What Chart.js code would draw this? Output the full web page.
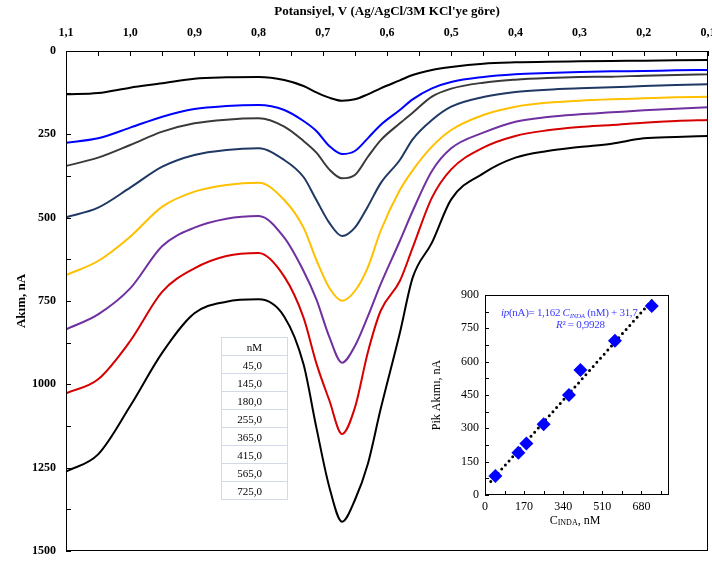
<!DOCTYPE html>
<html>
<head>
<meta charset="utf-8">
<script src="https://cdn.jsdelivr.net/npm/chart.js@4.4.1/dist/chart.umd.min.js"></script>
<style>
  html, body { margin: 0; padding: 0; background: #fff; }
  #wrap { position: relative; width: 712px; height: 563px; overflow: hidden; }
  #mainChart { position: absolute; left: 0; top: 0; }
  #insetChart { position: absolute; left: 425px; top: 285px; }
  #concTable { position: absolute; left: 221px; top: 337px; width: 67px; border-collapse: collapse;
    font: 11px 'Liberation Serif', serif; color: #000; }
  #concTable td, #concTable th { border: 1px solid #d3d9e6; height: 17px; padding: 0; font-weight: normal; }
  #concTable th { text-align: center; }
  #concTable td { text-align: right; padding-right: 25px; }
  .eq { position: absolute; font: 11px 'Liberation Serif', serif; letter-spacing: -0.3px; color: #3a3aff; white-space: nowrap; line-height: 12px; }
  .eq sub { font-size: 7px; vertical-align: -2px; }
  #xTitleInset { position: absolute; left: 540px; top: 513px; width: 70px; text-align: center;
    font: 12px 'Liberation Serif', serif; color: #000; }
  #xTitleInset sub { font-size: 8px; vertical-align: -1px; }
</style>
</head>
<body>
<div id="wrap">
  <canvas id="mainChart" width="712" height="563"></canvas>
  <canvas id="insetChart" width="283" height="255"></canvas>
  <table id="concTable"></table>
  <div class="eq" style="left:501px; top:306px;"><i>ip</i>(nA)= 1,162 <i>C<sub>INDA</sub></i> (nM) + 31,7</div>
  <div class="eq" style="left:556px; top:318px;"><i>R</i>² = 0,9928</div>
  <div id="xTitleInset">C<sub>INDA</sub>, nM</div>
</div>
<script>
// potential axis (V) and currents (nA)
const potentials = [1.10, 1.05, 1.00, 0.95, 0.90, 0.85, 0.80, 0.76, 0.73, 0.71, 0.69, 0.67, 0.65, 0.63, 0.61, 0.58, 0.56, 0.53, 0.50, 0.45, 0.40, 0.35, 0.30, 0.25, 0.20, 0.15, 0.10];
const concentrations = [45, 145, 180, 255, 365, 415, 565, 725];

const current45  = [130, 126, 110, 97, 83, 79, 78, 87, 105, 124, 140, 149, 145, 130, 112, 88, 72, 57, 48, 38, 34, 32, 31, 30, 29, 28, 27];
const current145 = [275, 262, 230, 197, 174, 165, 162, 177, 210, 240, 285, 309, 300, 262, 222, 177, 145, 112, 93, 78, 70, 66, 63, 61, 60, 58, 57];
const current180 = [345, 320, 282, 242, 217, 206, 202, 227, 270, 305, 355, 382, 372, 318, 268, 217, 185, 137, 113, 95, 86, 81, 78, 77, 74, 72, 70];
const current255 = [499, 470, 410, 347, 312, 297, 292, 327, 378, 447, 515, 555, 530, 467, 397, 327, 265, 207, 167, 138, 123, 116, 112, 109, 105, 102, 100];
const current365 = [672, 630, 557, 467, 422, 402, 395, 447, 530, 627, 710, 749, 720, 650, 540, 417, 358, 287, 237, 192, 167, 155, 149, 145, 142, 139, 137];
const current415 = [835, 790, 712, 585, 530, 503, 495, 560, 660, 745, 857, 935, 885, 797, 700, 570, 480, 360, 292, 245, 212, 198, 190, 184, 178, 173, 169];
const current565 = [1027, 985, 870, 722, 652, 615, 606, 677, 800, 937, 1047, 1149, 1070, 905, 780, 690, 590, 440, 355, 290, 255, 238, 228, 222, 215, 210, 207];
const current725 = [1262, 1210, 1065, 905, 787, 752, 745, 797, 940, 1130, 1307, 1412, 1347, 1240, 1075, 846, 680, 575, 445, 367, 320, 300, 288, 278, 262, 258, 255];

// calibration (inset)
const peakCurrents = [85, 190, 232, 318, 450, 563, 694, 850];
const trendConc = [25, 730];
const trendCurrent = [61, 880];

const allCurrents = [current45, current145, current180, current255, current365, current415, current565, current725];
const curveColors = ['#000000', '#0000ff', '#3a3a3a', '#1f3864', '#ffc000', '#7030a0', '#d60000', '#000000'];

const serif = "'Liberation Serif', 'Times New Roman', serif";

// box around the plot plus tick marks pointing inwards
const boxTicks = {
  id: 'boxTicks',
  afterDraw(chart, args, opts) {
    const { ctx, chartArea: a, scales } = chart;
    ctx.save();
    ctx.strokeStyle = '#000';
    ctx.lineWidth = 1;
    ctx.strokeRect(Math.round(a.left) + 0.5, Math.round(a.top) + 0.5,
      Math.round(a.right - a.left) - 1, Math.round(a.bottom - a.top) - 1);
    ctx.beginPath();
    opts.xTicks.forEach(v => {
      const px = Math.round(scales.x.getPixelForValue(v)) + 0.5;
      if (opts.xSide === 'top') { ctx.moveTo(px, a.top); ctx.lineTo(px, a.top + opts.len); }
      else { ctx.moveTo(px, a.bottom); ctx.lineTo(px, a.bottom - opts.len); }
    });
    opts.yTicks.forEach(v => {
      const py = Math.round(scales.y.getPixelForValue(v)) + 0.5;
      ctx.moveTo(a.left, py); ctx.lineTo(a.left + opts.len, py);
    });
    ctx.stroke();
    ctx.restore();
  }
};

// keep the chart area where the reference has it (no room reserved for edge labels)
function noEdgePad(s) {
  s.paddingLeft = 0; s.paddingRight = 0; s.paddingTop = 0; s.paddingBottom = 0;
}

const mainXTicks = [];
for (let i = 0; i <= 20; i++) mainXTicks.push(0.1 + i * 0.05);
const mainYTicks = [];
for (let i = 0; i <= 12; i++) mainYTicks.push(i * 125);

new Chart(document.getElementById('mainChart'), {
  type: 'line',
  data: {
    datasets: allCurrents.map((arr, i) => ({
      label: concentrations[i] + ' nM',
      data: potentials.map((v, j) => ({ x: v, y: arr[j] })),
      borderColor: curveColors[i],
      borderWidth: 2,
      pointRadius: 0,
      cubicInterpolationMode: 'monotone',
      fill: false
    }))
  },
  options: {
    responsive: false,
    animation: false,
    layout: { padding: { left: 0, top: 0, right: 4, bottom: 12 } },
    plugins: {
      legend: { display: false },
      tooltip: { enabled: false },
      boxTicks: { xTicks: mainXTicks, xSide: 'top', yTicks: mainYTicks, len: 5 }
    },
    scales: {
      x: {
        type: 'linear', position: 'top', reverse: true, min: 0.1, max: 1.1,
        grid: { display: false, drawTicks: false }, border: { display: false },
        afterBuildTicks: s => { s.ticks = [1.1, 1.0, 0.9, 0.8, 0.7, 0.6, 0.5, 0.4, 0.3, 0.2, 0.1].map(v => ({ value: v })); },
        ticks: { padding: 11, color: '#000', maxRotation: 0, autoSkip: false,
          font: { family: serif, size: 12, weight: 'bold' },
          callback: v => v.toFixed(1).replace('.', ',') },
        title: { display: true, text: "Potansiyel, V (Ag/AgCl/3M KCl'ye göre)", color: '#000',
          font: { family: serif, size: 13, weight: 'bold' }, padding: { top: 4, bottom: 0 } },
        afterFit: s => { s.height = 51; noEdgePad(s); }
      },
      y: {
        min: 0, max: 1500, reverse: true,
        grid: { display: false, drawTicks: false }, border: { display: false },
        ticks: { stepSize: 250, padding: 10, color: '#000',
          font: { family: serif, size: 12, weight: 'bold' },
          callback: v => String(v) },
        title: { display: true, text: 'Akım, nA', color: '#000',
          font: { family: serif, size: 13, weight: 'bold' }, padding: { top: 14, bottom: 0 } },
        afterFit: s => { s.width = 66; noEdgePad(s); }
      }
    }
  },
  plugins: [boxTicks]
});

const insetXTicks = [];
for (let i = 0; i <= 9; i++) insetXTicks.push(i * 85);
const insetYTicks = [];
for (let i = 0; i <= 12; i++) insetYTicks.push(i * 75);

new Chart(document.getElementById('insetChart'), {
  type: 'scatter',
  data: {
    datasets: [
      {
        data: concentrations.map((c, i) => ({ x: c, y: peakCurrents[i] })),
        backgroundColor: '#0000ff', borderColor: '#0000ff',
        pointStyle: 'rectRot', pointRadius: 7, borderWidth: 0
      },
      {
        type: 'line',
        data: trendConc.map((c, i) => ({ x: c, y: trendCurrent[i] })),
        borderColor: '#000', borderWidth: 3, borderDash: [0, 5.5], borderCapStyle: 'round',
        pointRadius: 0, fill: false
      }
    ]
  },
  options: {
    responsive: false,
    animation: false,
    layout: { padding: { left: 0, top: 10, right: 39, bottom: 0 } },
    plugins: {
      legend: { display: false },
      tooltip: { enabled: false },
      boxTicks: { xTicks: insetXTicks, xSide: 'bottom', yTicks: insetYTicks, len: 4 }
    },
    scales: {
      x: {
        type: 'linear', min: 0, max: 800,
        grid: { display: false, drawTicks: false }, border: { display: false },
        afterBuildTicks: s => { s.ticks = [0, 170, 340, 510, 680].map(v => ({ value: v })); },
        ticks: { padding: 5, color: '#000', maxRotation: 0, font: { family: serif, size: 12 } },
        afterFit: s => { s.height = 45; noEdgePad(s); }
      },
      y: {
        min: 0, max: 900,
        grid: { display: false, drawTicks: false }, border: { display: false },
        ticks: { stepSize: 150, padding: 6, color: '#000', font: { family: serif, size: 12 } },
        title: { display: true, text: 'Pik Akımı, nA', color: '#000',
          font: { family: serif, size: 12 }, padding: { top: 5, bottom: 0 } },
        afterFit: s => { s.width = 60; noEdgePad(s); }
      }
    }
  },
  plugins: [boxTicks]
});

// concentration table
const tbl = document.getElementById('concTable');
tbl.innerHTML = '<tr><th>nM</th></tr>' +
  concentrations.map(c => '<tr><td>' + c.toFixed(1).replace('.', ',') + '</td></tr>').join('');
</script>
</body>
</html>
